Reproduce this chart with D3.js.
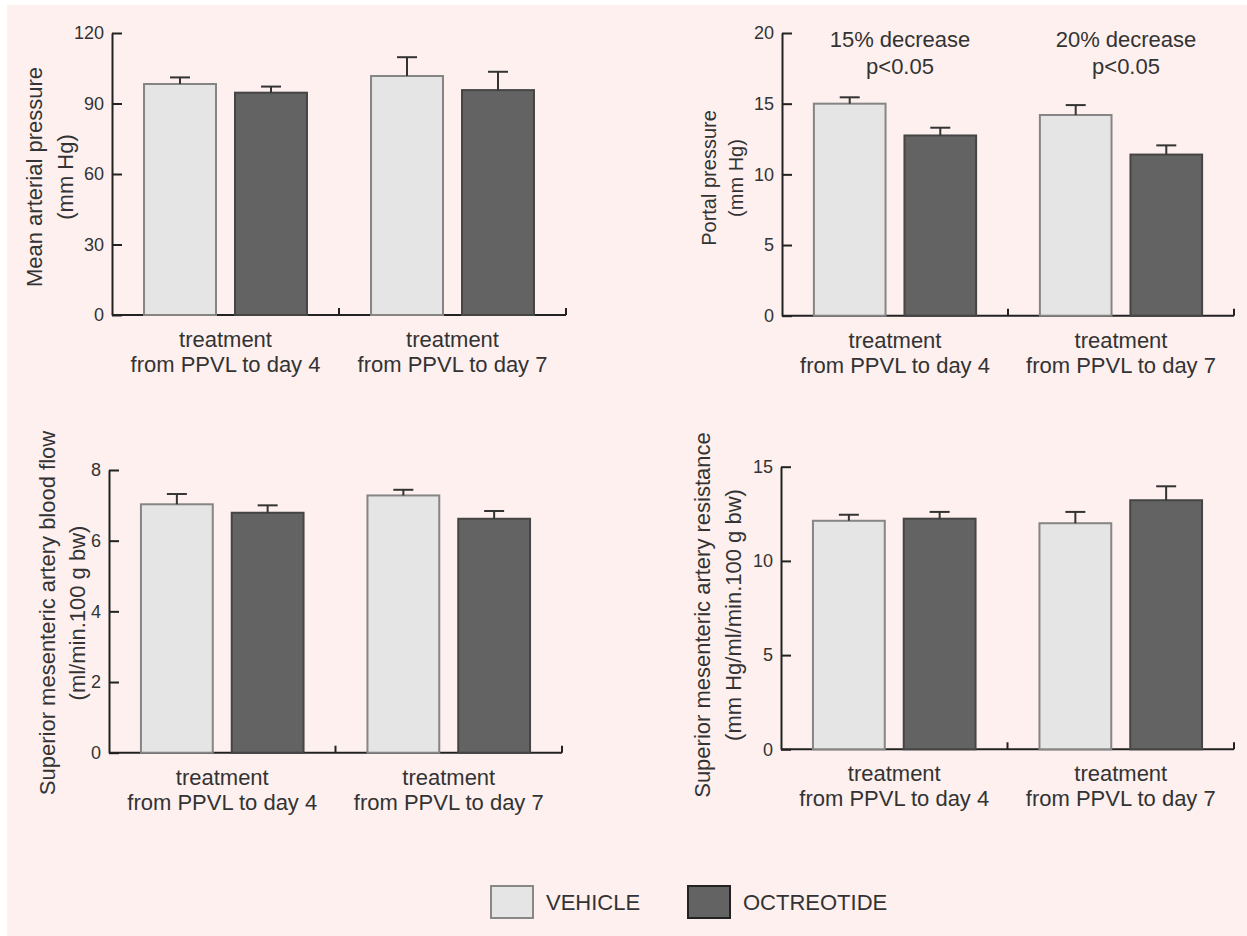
<!DOCTYPE html>
<html>
<head>
<meta charset="utf-8">
<script src="https://cdn.jsdelivr.net/npm/d3@7"></script>
<style>
  body { margin: 0; background: #fff; }
  text { font-family: "Liberation Sans", Arial, sans-serif; fill: #333; }
</style>
</head>
<body>
<div id="chart"></div>
<script>
// categories
var groupLine1 = ['treatment', 'treatment'];
var groupLine2 = ['from PPVL to day 4', 'from PPVL to day 7'];
var groups = ['day4', 'day7'];
var series = ['VEHICLE', 'OCTREOTIDE'];

// mean arterial pressure (mm Hg)
var mapVehicle = [98.3, 101.7];
var mapVehicleErr = [2.8, 8.0];
var mapOctreotide = [94.6, 95.7];
var mapOctreotideErr = [2.6, 7.8];
var mapTicks = [0, 30, 60, 90, 120];

// portal pressure (mm Hg)
var ppVehicle = [15.0, 14.2];
var ppVehicleErr = [0.45, 0.7];
var ppOctreotide = [12.75, 11.4];
var ppOctreotideErr = [0.55, 0.65];
var ppTicks = [0, 5, 10, 15, 20];
var ppNotes = [['15% decrease', 'p<0.05'], ['20% decrease', 'p<0.05']];

// SMA blood flow (ml/min.100 g bw)
var flowVehicle = [7.03, 7.28];
var flowVehicleErr = [0.29, 0.16];
var flowOctreotide = [6.79, 6.62];
var flowOctreotideErr = [0.21, 0.22];
var flowTicks = [0, 2, 4, 6, 8];

// SMA resistance (mm Hg/ml/min.100 g bw)
var resVehicle = [12.13, 12.0];
var resVehicleErr = [0.32, 0.6];
var resOctreotide = [12.24, 13.22];
var resOctreotideErr = [0.36, 0.74];
var resTicks = [0, 5, 10, 15];

var colors = { VEHICLE: '#e5e5e5', OCTREOTIDE: '#636363' };
var strokes = { VEHICLE: '#858585', OCTREOTIDE: '#454545' };

var svg = d3.select('#chart').append('svg')
    .attr('width', 1247)
    .attr('height', 936);

// pink backdrop
svg.append('rect').attr('x', 7).attr('y', 5).attr('width', 1240).attr('height', 931)
    .attr('fill', '#fdf0ef');

function drawPanel(p) {
    var g = svg.append('g');

    var y = d3.scaleLinear().domain([0, p.max]).range([p.bottom, p.top]);
    var xGroup = d3.scaleBand().domain(groups).range([p.left, p.right]);
    var xSeries = d3.scaleBand().domain(series).range([0, xGroup.bandwidth()])
        .paddingInner(0.209).paddingOuter(0.352);

    // y axis with inward ticks
    var yAxis = g.append('g')
        .attr('transform', `translate(${p.left},0)`)
        .call(d3.axisLeft(y).tickValues(p.ticks).tickSizeInner(-10).tickSizeOuter(0).tickPadding(8));
    yAxis.select('.domain').attr('stroke', '#222').attr('stroke-width', 2);
    yAxis.selectAll('.tick line').attr('stroke', '#222').attr('stroke-width', 2);
    yAxis.selectAll('.tick text')
        .style('font-family', '"Liberation Sans", Arial, sans-serif')
        .style('font-size', '18px').attr('fill', '#333');

    // x axis baseline with small upward ticks at group edges
    g.append('line')
        .attr('x1', p.left).attr('x2', p.right)
        .attr('y1', y(0)).attr('y2', y(0))
        .attr('stroke', '#222').attr('stroke-width', 2);
    g.selectAll('.xtick')
        .data(groups.slice(1).map(d => xGroup(d)).concat([p.right]))
        .enter().append('line')
        .attr('x1', d => d).attr('x2', d => d)
        .attr('y1', y(0)).attr('y2', y(0) - 7)
        .attr('stroke', '#222').attr('stroke-width', 2);

    // bars
    var rows = [];
    groups.forEach((grp, i) => {
        series.forEach((s, j) => {
            rows.push({ grp: grp, s: s, v: p.values[j][i], e: p.errors[j][i] });
        });
    });

    g.selectAll('.bar').data(rows).enter().append('rect')
        .attr('x', d => xGroup(d.grp) + xSeries(d.s))
        .attr('y', d => y(d.v))
        .attr('width', xSeries.bandwidth())
        .attr('height', d => y(0) - y(d.v))
        .attr('fill', d => colors[d.s])
        .attr('stroke', d => strokes[d.s])
        .attr('stroke-width', 2);

    // upper error bars
    var cx = d => xGroup(d.grp) + xSeries(d.s) + xSeries.bandwidth() / 2;
    g.selectAll('.err').data(rows).enter().append('line')
        .attr('x1', cx).attr('x2', cx)
        .attr('y1', d => y(d.v)).attr('y2', d => y(d.v + d.e))
        .attr('stroke', '#333').attr('stroke-width', 2);
    g.selectAll('.cap').data(rows).enter().append('line')
        .attr('x1', d => cx(d) - 10).attr('x2', d => cx(d) + 10)
        .attr('y1', d => y(d.v + d.e)).attr('y2', d => y(d.v + d.e))
        .attr('stroke', '#333').attr('stroke-width', 2);

    // group labels
    groups.forEach((grp, i) => {
        var mx = xGroup(grp) + xGroup.bandwidth() / 2;
        g.append('text').attr('x', mx).attr('y', y(0) + 32)
            .attr('text-anchor', 'middle').style('font-size', '22px').text(groupLine1[i]);
        g.append('text').attr('x', mx).attr('y', y(0) + 57)
            .attr('text-anchor', 'middle').style('font-size', '22px').text(groupLine2[i]);
    });

    // y title, two lines
    p.title.forEach((t, k) => {
        g.append('text')
            .attr('transform', `translate(${p.titleX[k]},${p.titleY}) rotate(-90)`)
            .attr('text-anchor', 'middle').attr('dy', '0.35em')
            .style('font-size', p.titleSize + 'px').text(t);
    });

    // annotations above groups
    if (p.notes) {
        groups.forEach((grp, i) => {
            var mx = xGroup(grp) + xGroup.bandwidth() / 2 + 5;
            g.append('text').attr('x', mx).attr('y', 47).attr('text-anchor', 'middle')
                .style('font-size', '22px').text(p.notes[i][0]);
            g.append('text').attr('x', mx).attr('y', 74).attr('text-anchor', 'middle')
                .style('font-size', '22px').text(p.notes[i][1]);
        });
    }
}

drawPanel({
    left: 112, right: 566, bottom: 315, top: 33, max: 120, ticks: mapTicks,
    values: [mapVehicle, mapOctreotide], errors: [mapVehicleErr, mapOctreotideErr],
    title: ['Mean arterial pressure', '(mm Hg)'], titleX: [34, 65], titleY: 177, titleSize: 22
});

drawPanel({
    left: 782, right: 1234, bottom: 315.7, top: 33, max: 20, ticks: ppTicks,
    values: [ppVehicle, ppOctreotide], errors: [ppVehicleErr, ppOctreotideErr],
    title: ['Portal pressure', '(mm Hg)'], titleX: [709, 736], titleY: 178, titleSize: 20,
    notes: ppNotes
});

drawPanel({
    left: 109, right: 562, bottom: 752.7, top: 470, max: 8, ticks: flowTicks,
    values: [flowVehicle, flowOctreotide], errors: [flowVehicleErr, flowOctreotideErr],
    title: ['Superior mesenteric artery blood flow', '(ml/min.100 g bw)'], titleX: [47, 77], titleY: 613, titleSize: 22
});

drawPanel({
    left: 781, right: 1234, bottom: 749.3, top: 466.7, max: 15, ticks: resTicks,
    values: [resVehicle, resOctreotide], errors: [resVehicleErr, resOctreotideErr],
    title: ['Superior mesenteric artery resistance', '(mm Hg/ml/min.100 g bw)'], titleX: [702, 733], titleY: 615, titleSize: 22
});

// legend
var legend = svg.append('g');
var legendX = [491, 688];
series.forEach((s, i) => {
    legend.append('rect')
        .attr('x', legendX[i]).attr('y', 886).attr('width', 42).attr('height', 32)
        .attr('fill', colors[s]).attr('stroke', i === 0 ? '#888' : '#222').attr('stroke-width', 2);
    legend.append('text')
        .attr('x', legendX[i] + 55).attr('y', 910)
        .style('font-size', '22px').text(s);
});
</script>
</body>
</html>
